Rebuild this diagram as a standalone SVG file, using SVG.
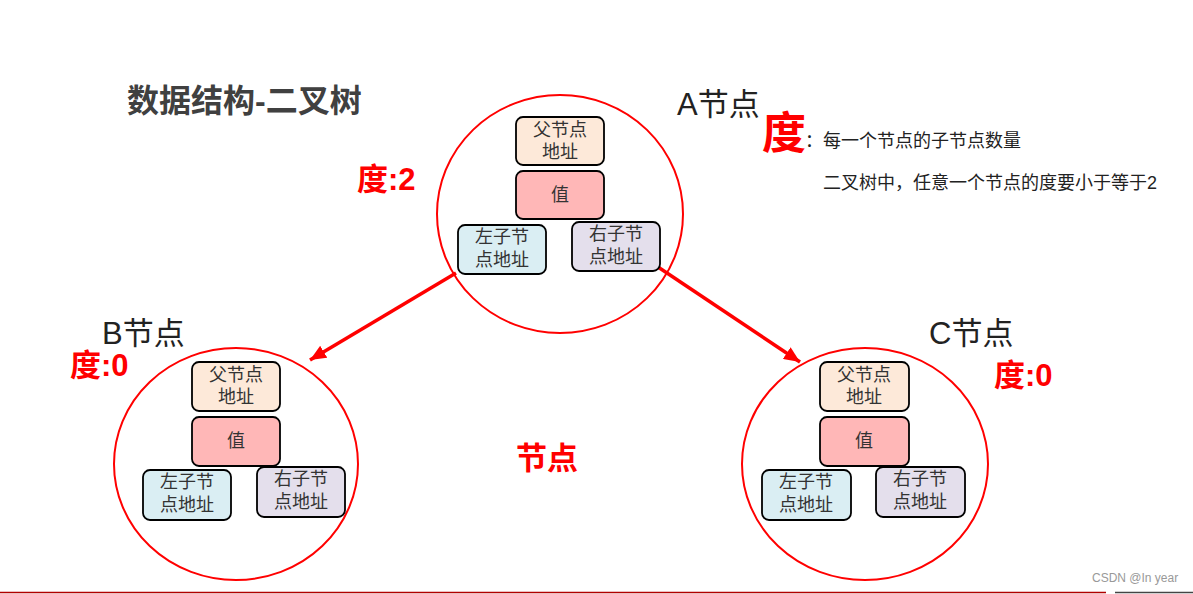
<svg xmlns="http://www.w3.org/2000/svg" width="1193" height="594" viewBox="0 0 1193 594">
<style>
text{font-family:"Liberation Sans","Noto Sans CJK SC",sans-serif}
.ring{fill:none;stroke:#ff0000;stroke-width:2}
.box{stroke:#000;stroke-width:1.8}
.par{fill:#fde9d9}
.val{fill:#ffb7b7}
.lft{fill:#daeef3}
.rgt{fill:#e4dfec}
.bt{font-size:18px;fill:#333;text-anchor:middle}
.lbl{font-size:31px;fill:#222}
.deg{font-size:31px;fill:#ff0000;font-weight:bold}
.desc{font-size:18px;fill:#222}
.conn{stroke:#ff0000;stroke-width:3.5;fill:none}
</style>
<defs>
<marker id="ah" markerUnits="userSpaceOnUse" markerWidth="18" markerHeight="14" refX="16" refY="7" orient="auto">
<path d="M0,0 L16,7 L0,14 Z" fill="#ff0000"/>
</marker>
</defs>
<rect width="1193" height="594" fill="#fff"/>

<text x="127" y="112" style="font-size:32px;font-weight:bold;fill:#404040">数据结构-二叉树</text>

<g id="connectors">
<line class="conn" x1="456" y1="273" x2="310" y2="360" marker-end="url(#ah)"/>
<line class="conn" x1="658" y1="267" x2="800" y2="362" marker-end="url(#ah)"/>
</g>

<g id="nodeA">
<ellipse class="ring" cx="560" cy="214" rx="123" ry="119"/>
<rect class="box par" x="516" y="117" width="88" height="48" rx="7"/>
<text class="bt" x="560" y="136">父节点</text>
<text class="bt" x="560" y="158">地址</text>
<rect class="box val" x="516" y="171" width="88" height="48" rx="7"/>
<text class="bt" x="560" y="201">值</text>
<rect class="box lft" x="458" y="225" width="88" height="49" rx="7"/>
<text class="bt" x="502" y="243">左子节</text>
<text class="bt" x="502" y="266">点地址</text>
<rect class="box rgt" x="572" y="222" width="88" height="49" rx="7"/>
<text class="bt" x="616" y="240">右子节</text>
<text class="bt" x="616" y="263">点地址</text>
<text class="lbl" x="677" y="115">A节点</text>
<text class="deg" x="357" y="190">度:2</text>
</g>

<g id="nodeB">
<ellipse class="ring" cx="236" cy="464" rx="122" ry="116"/>
<rect class="box par" x="192" y="362" width="88" height="49" rx="7"/>
<text class="bt" x="236" y="381">父节点</text>
<text class="bt" x="236" y="403">地址</text>
<rect class="box val" x="192" y="417" width="88" height="49" rx="7"/>
<text class="bt" x="236" y="447">值</text>
<rect class="box lft" x="143" y="470" width="88" height="50" rx="7"/>
<text class="bt" x="187" y="488">左子节</text>
<text class="bt" x="187" y="511">点地址</text>
<rect class="box rgt" x="257" y="467" width="88" height="50" rx="7"/>
<text class="bt" x="301" y="485">右子节</text>
<text class="bt" x="301" y="508">点地址</text>
<text class="lbl" x="102" y="344">B节点</text>
<text class="deg" x="70" y="376">度:0</text>
</g>

<g id="nodeC">
<ellipse class="ring" cx="865" cy="464" rx="123" ry="116"/>
<rect class="box par" x="820" y="362" width="89" height="49" rx="7"/>
<text class="bt" x="864" y="381">父节点</text>
<text class="bt" x="864" y="403">地址</text>
<rect class="box val" x="820" y="417" width="89" height="49" rx="7"/>
<text class="bt" x="864" y="447">值</text>
<rect class="box lft" x="762" y="470" width="89" height="50" rx="7"/>
<text class="bt" x="806" y="488">左子节</text>
<text class="bt" x="806" y="511">点地址</text>
<rect class="box rgt" x="876" y="467" width="89" height="50" rx="7"/>
<text class="bt" x="920" y="485">右子节</text>
<text class="bt" x="920" y="508">点地址</text>
<text class="lbl" x="929" y="344">C节点</text>
<text class="deg" x="994" y="386">度:0</text>
</g>

<g id="legend">
<text x="762" y="149" style="font-size:44px;font-weight:bold;fill:#ff0000">度</text>
<text class="desc" x="805" y="147">：每一个节点的子节点数量</text>
<text class="desc" x="823" y="189">二叉树中，任意一个节点的度要小于等于2</text>
</g>

<text x="516" y="469" style="font-size:31px;font-weight:bold;fill:#ff0000">节点</text>

<text x="1092" y="582" style="font-size:12px;fill:#999">CSDN @In year</text>
<line x1="0" y1="592.5" x2="1106" y2="592.5" stroke="#b00000" stroke-width="1.5"/>
<line x1="1115" y1="592.5" x2="1193" y2="592.5" stroke="#444" stroke-width="1.5"/>
</svg>
